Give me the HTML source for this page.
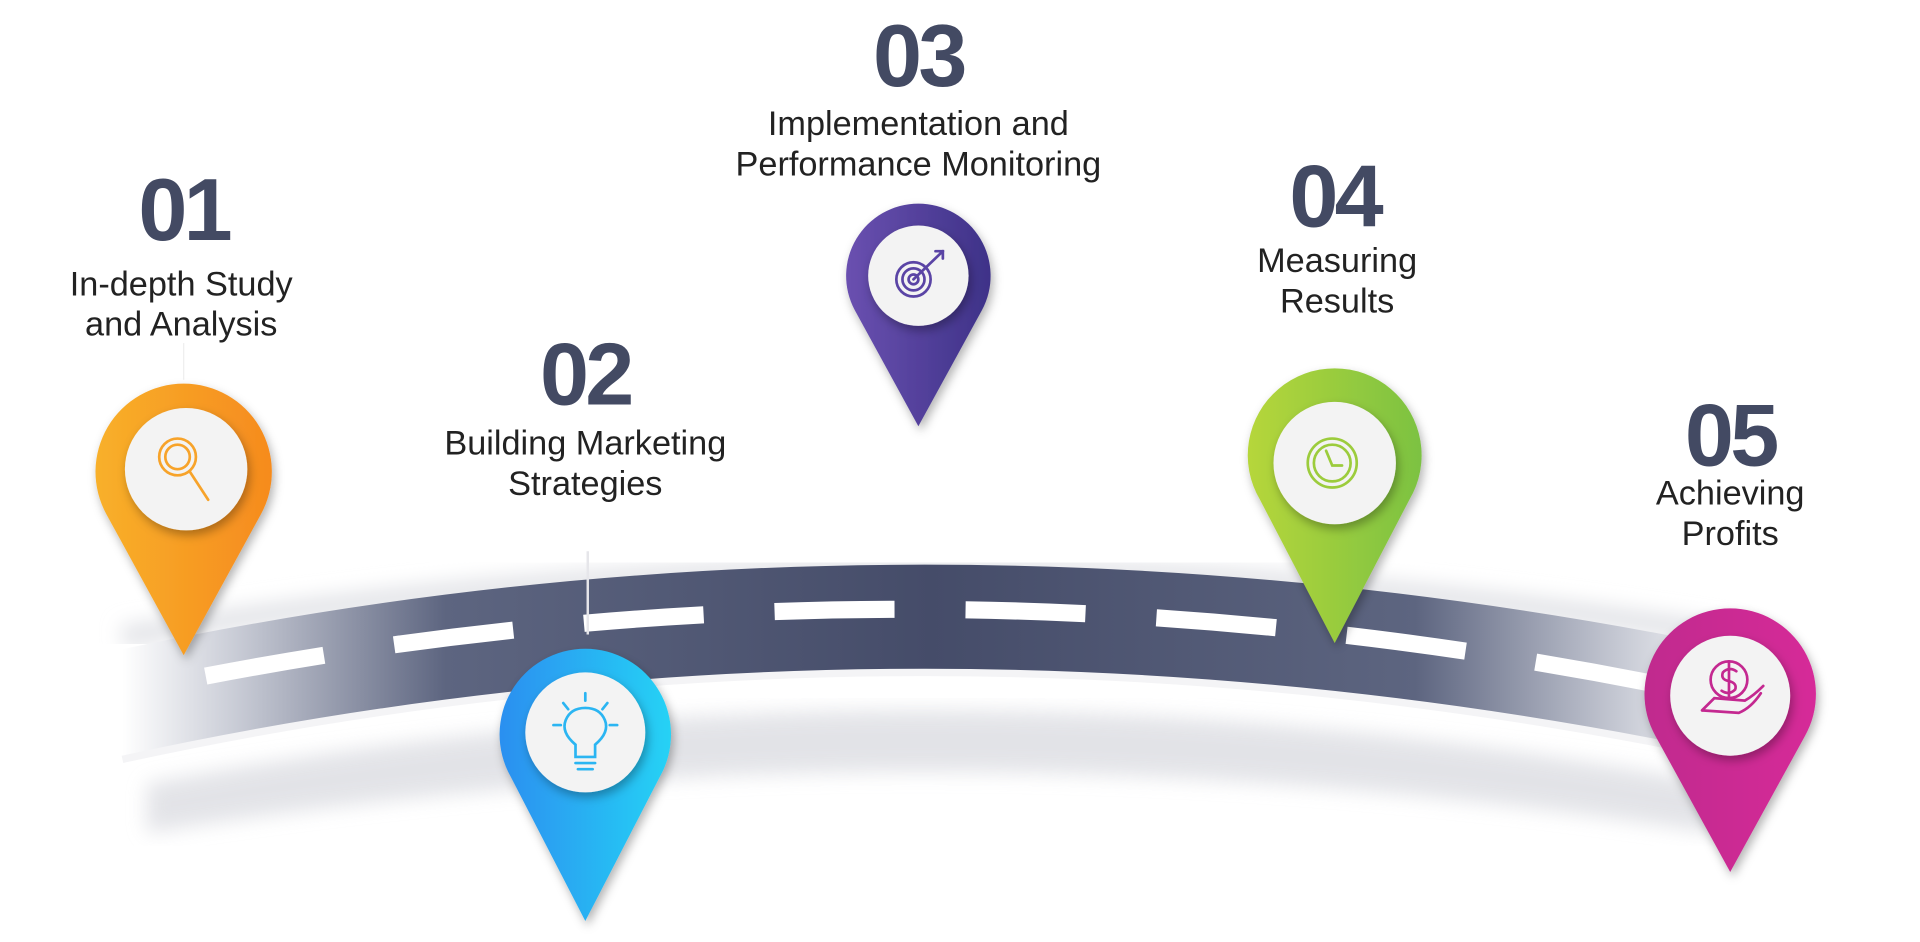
<!DOCTYPE html>
<html><head><meta charset="utf-8"><style>
html,body{margin:0;padding:0;background:#fff;width:1920px;height:942px;overflow:hidden}
svg{display:block}
.n{font-family:"Liberation Sans","DejaVu Sans",sans-serif;font-weight:bold;font-size:72px;fill:#434a63;text-anchor:middle;letter-spacing:-3px}
.t{font-family:"Liberation Sans Narrow","Liberation Sans",sans-serif;font-size:28px;fill:#222;text-anchor:middle}
</style></head><body>
<svg width="1920" height="942" viewBox="0 0 1568 769" xmlns="http://www.w3.org/2000/svg">
<defs>
<linearGradient id="road" x1="0" x2="1" y1="0" y2="0">
<stop offset="0" stop-color="#fff"/><stop offset="0.07" stop-color="#c9ccd6"/><stop offset="0.2" stop-color="#5d6580"/><stop offset="0.5" stop-color="#454c69"/><stop offset="0.8" stop-color="#5d6580"/><stop offset="0.93" stop-color="#c9ccd6"/><stop offset="1" stop-color="#fff"/></linearGradient>
<filter id="blur"><feGaussianBlur stdDeviation="8"/></filter>
<filter id="ds" x="-50%" y="-50%" width="200%" height="200%"><feDropShadow dx="2" dy="4" stdDeviation="4" flood-color="#000" flood-opacity="0.3"/></filter>
<linearGradient id="g1" x1="0" x2="1"><stop offset="0" stop-color="#f8b02a"/><stop offset="1" stop-color="#f68b1e"/></linearGradient>
<linearGradient id="g2" x1="0" x2="1"><stop offset="0" stop-color="#2a8ff0"/><stop offset="1" stop-color="#27d2f5"/></linearGradient>
<linearGradient id="g3" x1="0" x2="1"><stop offset="0" stop-color="#6a50b0"/><stop offset="1" stop-color="#3e3288"/></linearGradient>
<linearGradient id="g4" x1="0" x2="1"><stop offset="0" stop-color="#b6d63a"/><stop offset="1" stop-color="#7cc242"/></linearGradient>
<linearGradient id="g5" x1="0" x2="1"><stop offset="0" stop-color="#c02a8e"/><stop offset="1" stop-color="#d62a98"/></linearGradient>
</defs>
<path d="M120,640 Q750,520 1400,640 L1400,680 Q750,580 120,680Z" fill="#dcdde2" filter="url(#blur)" opacity="0.8"/>
<path d="M100,520 Q750,410 1420,520" fill="none" stroke="#e3e4e8" stroke-width="18" filter="url(#blur)"/>
<path d="M100,530 Q750,392 1420,530 L1420,620 Q750,478 100,620Z" fill="url(#road)"/>
<path d="M100,620 Q750,478 1420,620" fill="none" stroke="#f4f4f6" stroke-width="6"/>
<path d="M168,552 Q750,440 1350,558" fill="none" stroke="#fff" stroke-width="14" stroke-dasharray="98 58"/>
<line x1="480" y1="450" x2="480" y2="518" stroke="#e6e6ea" stroke-width="2"/>
<line x1="150" y1="280" x2="150" y2="310" stroke="#eee" stroke-width="1"/>

<text class="n" x="150" y="196">01</text>
<text class="t" x="148" y="241">In-depth Study</text><text class="t" x="148" y="274">and Analysis</text>
<text class="n" x="478" y="330">02</text>
<text class="t" x="478" y="371">Building Marketing</text><text class="t" x="478" y="404">Strategies</text>
<text class="n" x="750" y="70">03</text>
<text class="t" x="750" y="110">Implementation and</text><text class="t" x="750" y="143">Performance Monitoring</text>
<text class="n" x="1090" y="185">04</text>
<text class="t" x="1092" y="222">Measuring</text><text class="t" x="1092" y="255">Results</text>
<text class="n" x="1413" y="380">05</text>
<text class="t" x="1413" y="412">Achieving</text><text class="t" x="1413" y="445">Profits</text>

<g filter="url(#ds)">
<path d="M150,535 L213,420 A72,72 0 1 0 87,420Z" fill="url(#g1)"/>
<path d="M478,752 L539,634 A70,70 0 1 0 417,634Z" fill="url(#g2)"/>
<path d="M750,348 L802,253 A59,59 0 1 0 698,253Z" fill="url(#g3)"/>
<path d="M1090,525 L1151,408 A71,71 0 1 0 1029,408Z" fill="url(#g4)"/>
<path d="M1413,712 L1474,601 A70,70 0 1 0 1352,601Z" fill="url(#g5)"/>
</g>
<g fill="#f3f3f3" filter="url(#ds)">
<circle cx="152" cy="383" r="50"/>
<circle cx="478" cy="598" r="49"/>
<circle cx="750" cy="225" r="41"/>
<circle cx="1090" cy="378" r="50"/>
<circle cx="1413" cy="568" r="49"/>
</g>
<g fill="none" stroke-width="2.2" stroke-linecap="round">
<g stroke="#f7a32a"><circle cx="145" cy="373" r="15"/><circle cx="145" cy="373" r="10"/><line x1="155" y1="385" x2="170" y2="408"/></g>
<g stroke="#2bb5f2"><path d="M470,618 L470,608 Q458,598 462,588 Q466,578 478,578 Q490,578 494,588 Q498,598 486,608 L486,618Z"/><line x1="470" y1="623" x2="486" y2="623"/><line x1="472" y1="628" x2="484" y2="628"/><line x1="478" y1="566" x2="478" y2="572"/><line x1="460" y1="574" x2="464" y2="579"/><line x1="496" y1="574" x2="492" y2="579"/><line x1="452" y1="592" x2="458" y2="592"/><line x1="498" y1="592" x2="504" y2="592"/></g>
<g stroke="#5a44a5"><circle cx="746" cy="228" r="14"/><circle cx="746" cy="228" r="9"/><circle cx="746" cy="228" r="4"/><line x1="746" y1="228" x2="770" y2="205"/><path d="M764,205 L770,205 L770,211"/></g>
<g stroke="#9ccc3c"><circle cx="1088" cy="378" r="20"/><circle cx="1088" cy="378" r="15"/><path d="M1083,368 L1088,380 L1096,380"/></g>
<g stroke="#c42890"><circle cx="1412" cy="555" r="15"/><path d="M1418,548 Q1412,544 1407,549 Q1405,555 1412,556 Q1419,558 1417,563 Q1412,568 1406,564 M1412,540 L1412,570"/><path d="M1390,580 L1400,570 L1425,572 Q1432,568 1440,560 M1390,580 L1420,582 Q1430,578 1438,566"/></g>
</g>
</svg>
</body></html>
